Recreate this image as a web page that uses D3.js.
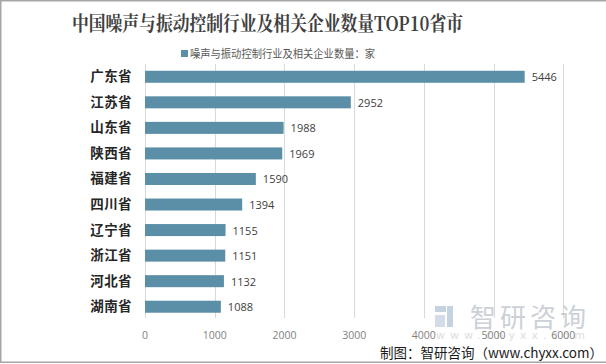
<!DOCTYPE html>
<html><head><meta charset="utf-8">
<script src="https://cdn.jsdelivr.net/npm/d3@7"></script>
<style>
html,body{margin:0;padding:0;background:#fff;}
svg{display:block;}
</style>
</head><body>
<svg id="c" width="606" height="364"></svg>
<script>
const categories = ["广东省","江苏省","山东省","陕西省","福建省","四川省","辽宁省","浙江省","河北省","湖南省"];
const values = [5446,2952,1988,1969,1590,1394,1155,1151,1132,1088];
const xTicks = [0,1000,2000,3000,4000,5000,6000];
const title = "中国噪声与振动控制行业及相关企业数量TOP10省市";
const legendLabel = "噪声与振动控制行业及相关企业数量：家";
const source = "制图：智研咨询（www.chyxx.com）";

const svg = d3.select("#c");
const W = 606, H = 364;
const barColor = "#5b8ea7";
const cjk = "'Noto Sans CJK SC','Microsoft YaHei',sans-serif";

// frame
svg.append("rect").attr("x",0.75).attr("y",0.75).attr("width",W+2).attr("height",H-2.5)
  .attr("fill","#fff").attr("stroke","#a6a6a6").attr("stroke-width",1.5);

const x = d3.scaleLinear().domain([0,6000]).range([145,563.3]);
const y = d3.scaleBand().domain(categories).range([64,319.5]).paddingInner(0.53).paddingOuter(0.265);

// grid
svg.append("g").selectAll("line").data(xTicks).join("line")
  .attr("x1",d=>Math.round(x(d))+0.5).attr("x2",d=>Math.round(x(d))+0.5)
  .attr("y1",64).attr("y2",318)
  .attr("stroke","#d9d9d9").attr("stroke-width",1);

// watermark
const wm = svg.append("g").attr("opacity",0.6);
wm.append("rect").attr("x",435).attr("y",306).attr("width",11).attr("height",6).attr("fill","#9fb6cc");
wm.append("rect").attr("x",447).attr("y",306).attr("width",6).attr("height",21).attr("fill","#9fb6cc");
wm.append("rect").attr("x",435).attr("y",315).attr("width",10).attr("height",12).attr("fill","#b9c8d8");
wm.append("text").attr("x",470).attr("y",327).attr("font-family",cjk).attr("font-size",26)
  .attr("fill","#aab3bd").attr("letter-spacing",4).text("智研咨询");
wm.append("text").attr("x",436).attr("y",339).attr("font-family","'DejaVu Sans',sans-serif").attr("font-size",11)
  .attr("fill","#c4c8cc").attr("letter-spacing",5).text("www.chyxx.com");

// axis tick labels
svg.append("g").selectAll("text").data(xTicks).join("text")
  .attr("x",d=>x(d)).attr("y",339).attr("text-anchor","middle")
  .attr("font-family","'Open Sans','DejaVu Sans',sans-serif").attr("font-size",10.5)
  .attr("fill","#7f7f7f").text(d=>d);

// bars
svg.append("g").selectAll("rect").data(values).join("rect")
  .attr("x",x(0)).attr("y",(d,i)=>y(categories[i]))
  .attr("width",d=>x(d)-x(0)).attr("height",y.bandwidth())
  .attr("fill",barColor);

// value labels
svg.append("g").selectAll("text").data(values).join("text")
  .attr("x",d=>x(d)+7).attr("y",(d,i)=>y(categories[i])+y.bandwidth()/2+4.5)
  .attr("font-family","'Open Sans','DejaVu Sans',sans-serif").attr("font-size",11)
  .attr("fill","#404040").text(d=>d);

// category labels
svg.append("g").selectAll("text").data(categories).join("text")
  .attr("x",132).attr("y",d=>y(d)+y.bandwidth()/2+4.5).attr("text-anchor","end")
  .attr("font-family",cjk).attr("font-weight","bold").attr("font-size",13.5)
  .attr("letter-spacing",0.4).attr("fill","#262626").text(d=>d);

// title
svg.append("text").attr("x",72).attr("y",31)
  .attr("font-family","'Noto Serif CJK SC','Noto Sans CJK SC',serif").attr("font-weight","bold")
  .attr("font-size",20).attr("fill","#404040").attr("textLength",391).attr("lengthAdjust","spacingAndGlyphs").text(title);

// legend
svg.append("rect").attr("x",181).attr("y",50).attr("width",7).attr("height",7).attr("fill",barColor);
svg.append("text").attr("x",190).attr("y",58).attr("font-family",cjk).attr("font-size",11.5)
  .attr("fill","#595959").attr("textLength",185).attr("lengthAdjust","spacingAndGlyphs").text(legendLabel);

// source
svg.append("text").attr("x",603).attr("y",358).attr("text-anchor","end")
  .attr("font-family",cjk).attr("font-size",13.5).attr("fill","#1a1a1a").text(source);
</script>
</body></html>
